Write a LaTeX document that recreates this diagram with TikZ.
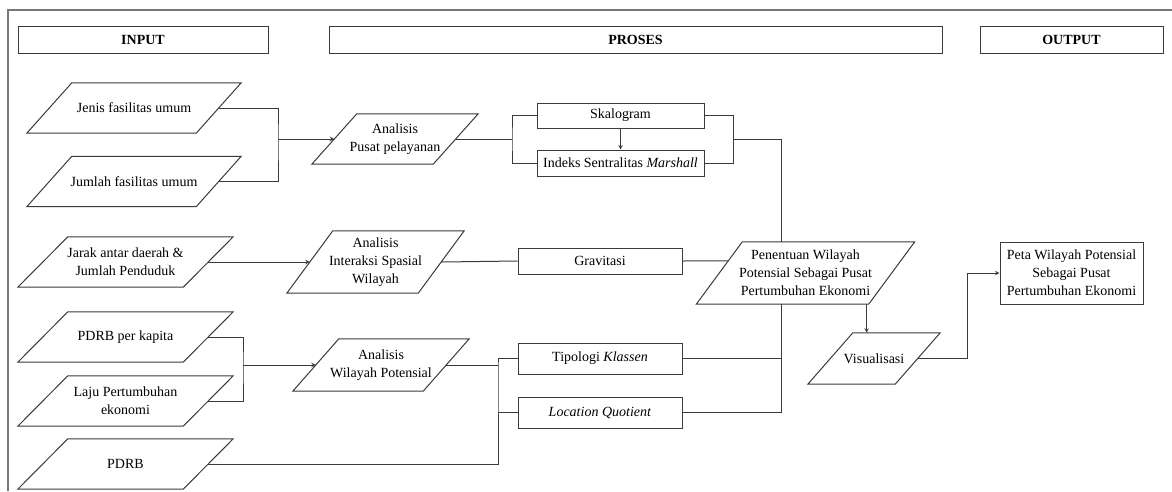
\documentclass[tikz,border=0pt]{standalone}
\usepackage{fontspec}
\setmainfont{Liberation Serif}
\usetikzlibrary{positioning,calc}
\definecolor{linegray}{HTML}{3A3A3A}
\definecolor{framegray}{HTML}{777777}

% parallelogram round a named node: node name, half slant (pt)
\newcommand{\drawpara}[2]{%
  \draw[paraline] ([xshift=-#2pt]#1.south west) -- ([xshift=#2pt]#1.north west)
    -- ([xshift=#2pt]#1.north east) -- ([xshift=-#2pt]#1.south east) -- cycle;}

\begin{document}
\begin{tikzpicture}[x=1pt,y=-1pt,
  font=\fontsize{14}{18}\selectfont,
  head/.style={draw=linegray, line width=1pt, minimum height=27pt, font=\fontsize{14}{18}\selectfont\bfseries},
  box/.style={draw=linegray, line width=1pt, align=center, inner sep=2pt},
  para/.style={align=center, inner sep=0pt},
  paraline/.style={draw=linegray, line width=1pt},
  line/.style={draw=linegray, line width=1pt},
  arr/.style={line, ->, >=stealth}]
\useasboundingbox (0,0) rectangle (1172,491);
%% outer frame
\draw[framegray, line width=1.6pt] (8,491) -- (8,10) -- (1172,10);
%the headers
\node[head, minimum width=250pt] (input) at (143,39.5) {INPUT};
\node[head, minimum width=613pt] (proses) at (635.5,39.5) {PROSES};
\node[head, minimum width=183pt] (output) at (1071.5,39.5) {OUTPUT};
%input data
\node[para, minimum width=169pt, minimum height=50pt] (jenis) at (134,108) {Jenis fasilitas umum};
\node[para, minimum width=169pt, minimum height=50pt] (jumlah) at (134,181.5) {Jumlah fasilitas umum};
\node[para, minimum width=165pt, minimum height=50pt] (jarak) at (125.5,262) {Jarak antar daerah \&\\Jumlah Penduduk};
\node[para, minimum width=165pt, minimum height=50pt] (kapita) at (125.5,337) {PDRB per kapita};
\node[para, minimum width=165pt, minimum height=50pt] (laju) at (125.5,401) {Laju Pertumbuhan\\ekonomi};
\node[para, minimum width=165pt, minimum height=50pt] (pdrb) at (125.5,464) {PDRB};
%analysis
\node[para, minimum width=121pt, minimum height=50pt] (pusat) at (395,139) {Analisis\\Pusat pelayanan};
\node[para, minimum width=131pt, minimum height=62pt] (interaksi) at (375.5,262) {Analisis\\Interaksi Spasial\\Wilayah};
\node[para, minimum width=130pt, minimum height=52pt] (wilayah) at (381,365) {Analisis\\Wilayah Potensial};
%methods
\node[box, minimum width=167pt, minimum height=25pt] (skalogram) at (620.5,115.5) {Skalogram};
\node[box, minimum width=167pt, minimum height=26pt] (indeks) at (620.5,163) {Indeks Sentralitas \textit{Marshall}};
\node[box, minimum width=164pt, minimum height=26pt] (gravitasi) at (600,261) {Gravitasi};
\node[box, minimum width=164pt, minimum height=31pt] (tipologi) at (600,358.5) {Tipologi \textit{Klassen}};
\node[box, minimum width=164pt, minimum height=31pt] (lq) at (600,412.5) {\textit{Location Quotient}};
%result
\node[para, minimum width=172pt, minimum height=62pt] (penentuan) at (805.5,273) {Penentuan Wilayah\\Potensial Sebagai Pusat\\Pertumbuhan Ekonomi};
\node[para, minimum width=87pt, minimum height=51pt] (visual) at (874,358.5) {Visualisasi};
\node[box, minimum width=143pt, minimum height=62pt] (peta) at (1071.5,273) {Peta Wilayah Potensial\\Sebagai Pusat\\Pertumbuhan Ekonomi};
%parallelograms
\foreach \n/\s in {jenis/22.5, jumlah/22.5, jarak/25, kapita/25, laju/25, pdrb/25,
  pusat/22.5, interaksi/23, wilayah/23, penentuan/23, visual/22.5}
  \drawpara{\n}{\s}
%drawings of lines
\coordinate (j1) at (278,140);
\draw[line] (jenis.east) -| (j1) |- (jumlah.east);
\draw[arr] (pusat.west -| j1) -- (pusat.west);
\draw[arr] (jarak.east) -- (interaksi.west);
\coordinate (k1) at (243,366);
\draw[line] (kapita.east) -| (k1) |- (laju.east);
\draw[arr] (wilayah.west -| k1) -- (wilayah.west);

\coordinate (s1) at (512,139);
\draw[line] (pusat.east) -- (s1);
\draw[line] (skalogram.west) -| (s1) |- (indeks.west);
\draw[arr] (skalogram) -- (indeks);
\coordinate (s2) at (733,139);
\draw[line] (skalogram.east) -| (s2) |- (indeks.east);
\coordinate (p1) at (781,139);
\draw[line] (s2) -- (p1) -- (p1 |- penentuan.north);

\draw[line] (interaksi.east) -- (gravitasi.west);
\draw[line] (gravitasi.east) -- ($(penentuan.west)!0.39!([xshift=23pt]penentuan.north west)$);

\coordinate (q1) at (498,365);
\draw[line] (wilayah.east) -- (q1);
\draw[line] (tipologi.west) -| (q1) |- (pdrb.east);
\draw[line] (lq.west) -- (lq.west -| q1);
\draw[line] (p1 |- penentuan.south) |- (lq.east);
\draw[line] (tipologi.east) -- (tipologi.east -| p1);

\draw[arr] ([xshift=-25pt]penentuan.south east) -- ([xshift=-25pt]penentuan.south east |- visual.north);
\coordinate (v1) at (967,300);
\draw[arr] (visual.east) -| (v1) |- (peta.west);

\end{tikzpicture}
\end{document}
